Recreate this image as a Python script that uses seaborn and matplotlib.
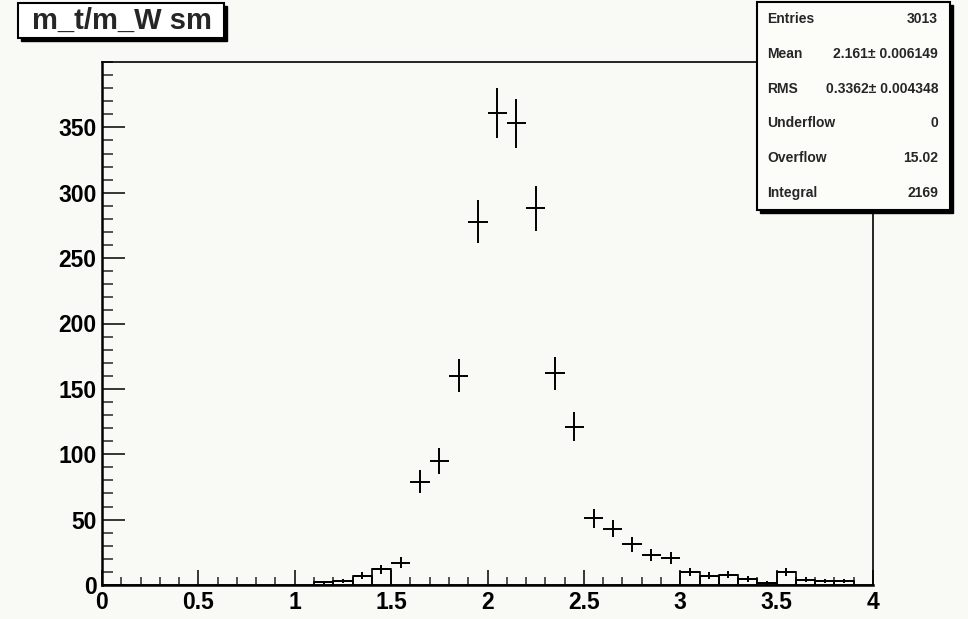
import numpy as np
import pandas as pd
import seaborn as sns
import matplotlib.pyplot as plt
from matplotlib.patches import Rectangle
from matplotlib.ticker import MultipleLocator

sns.set_theme(style="white")
plt.rcParams['font.family'] = ['Liberation Sans', 'DejaVu Sans']
plt.rcParams['font.weight'] = 'bold'

# bin contents, 40 bins of width 0.1 from 0 to 4
bin_edges = [round(0.1 * i, 2) for i in range(41)]
counts = [0, 0, 0, 0, 0, 0, 0, 0, 0, 0,
          0, 2, 3, 7, 12, 17, 79, 95, 160, 278,
          361, 353, 288, 162, 121, 51, 43, 31, 23, 21,
          10, 7, 8, 4.5, 1.5, 10, 4, 3, 3, 0]
# bins that also show a box outline
outline_ranges = [(1.1, 1.5), (3.0, 3.9)]

title = "m_t/m_W sm"
stats_labels = ["Entries", "Mean", "RMS", "Underflow", "Overflow", "Integral"]
stats_values = ["3013", "2.161\u00b1 0.006149", "0.3362\u00b1 0.004348", "0", "15.02", "2169"]

edges = np.array(bin_edges)
centers = (edges[:-1] + edges[1:]) / 2
df = pd.DataFrame({"x": centers, "count": counts})
df["err"] = np.sqrt(df["count"])
mask = np.zeros(len(df), dtype=bool)
for lo, hi in outline_ranges:
    mask |= (df["x"] > lo) & (df["x"] < hi)
boxes = df[mask]
pts = df[df["count"] > 0]

bg = "#f9f9f5"
fig = plt.figure(figsize=(9.68, 6.19), dpi=100, facecolor=bg)
ax = fig.add_axes([102/968, 34/619, 771/968, 523/619])
ax.set_facecolor(bg)

sns.histplot(x=boxes["x"], weights=boxes["count"], binwidth=0.1, binrange=(0, 4),
             element="bars", fill=False, color="black", linewidth=1.2, ax=ax)
ax.errorbar(pts["x"], pts["count"], xerr=0.05, yerr=pts["err"], fmt="none",
            ecolor="black", elinewidth=1.4, capsize=0)

ax.set_xlim(0, 4)
ax.set_ylim(0, 400)
ax.set_xlabel("")
ax.set_ylabel("")
ax.xaxis.set_minor_locator(MultipleLocator(0.1))
ax.yaxis.set_minor_locator(MultipleLocator(10))
ax.set_xticks([0, 0.5, 1, 1.5, 2, 2.5, 3, 3.5, 4])
ax.set_xticklabels(["0", "0.5", "1", "1.5", "2", "2.5", "3", "3.5", "4"])
ax.set_yticks(range(0, 400, 50))
ax.tick_params(axis="x", which="major", direction="in", length=11, width=1.1,
               labelsize=16.5, pad=4, bottom=True, top=False, colors="black")
ax.tick_params(axis="x", which="minor", direction="in", length=5.5, width=1.1,
               bottom=True, top=False)
ax.tick_params(axis="y", which="major", direction="in", length=16.5, width=1.1,
               labelsize=16.5, pad=4, left=True, right=False, colors="black")
ax.tick_params(axis="y", which="minor", direction="in", length=8, width=1.1,
               left=True, right=False)
for lab in ax.get_xticklabels() + ax.get_yticklabels():
    lab.set_fontweight("bold")
for side in ["left", "bottom"]:
    ax.spines[side].set_linewidth(1.8)
    ax.spines[side].set_color("black")
for side in ["top", "right"]:
    ax.spines[side].set_linewidth(1.2)
    ax.spines[side].set_color("black")

# title box with shadow
fig.add_artist(Rectangle((21/968, 1 - 41/619), 206/968, 35/619, transform=fig.transFigure,
                         facecolor="black", edgecolor="black", zorder=5))
fig.add_artist(Rectangle((18/968, 1 - 38/619), 206/968, 35/619, transform=fig.transFigure,
                         facecolor="white", edgecolor="black", linewidth=1.5, zorder=6))
fig.text(122/968, 1 - 21/619, title, fontsize=21, fontweight="bold", ha="center",
         va="center", zorder=7)

# stats box with shadow
fig.add_artist(Rectangle((760/968, 1 - 213/619), 193/968, 208/619, transform=fig.transFigure,
                         facecolor="black", edgecolor="black", zorder=5))
fig.add_artist(Rectangle((757/968, 1 - 210/619), 193/968, 208/619, transform=fig.transFigure,
                         facecolor="#fcfcf9", edgecolor="black", linewidth=1.5, zorder=6))
for i, (lab, val) in enumerate(zip(stats_labels, stats_values)):
    y = 1 - (19 + i * 34.8) / 619
    fig.text(767/968, y, lab, fontsize=10, fontweight="bold", ha="left", va="center", zorder=7)
    fig.text(938/968, y, val, fontsize=10, fontweight="bold", ha="right", va="center", zorder=7)

fig.savefig("out.png", dpi=100, facecolor=bg)
